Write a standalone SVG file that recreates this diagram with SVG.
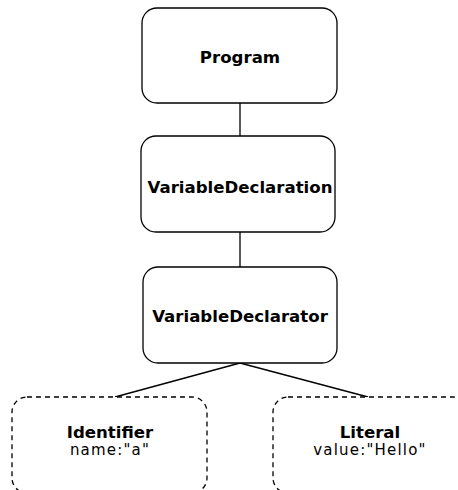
<svg xmlns="http://www.w3.org/2000/svg" width="458" height="490" viewBox="0 0 458 490">
<style>
.box{fill:#fff;stroke:#000;stroke-width:1.3}
.dash{stroke-dasharray:5,4}
.t{font-family:"DejaVu Sans",Verdana,sans-serif;font-size:15px;letter-spacing:1.2px;text-anchor:middle;fill:#000}
.b{font-weight:bold;font-size:16.6px;letter-spacing:0}
.edge{stroke:#000;stroke-width:1.3;fill:none}
</style>
<rect width="458" height="490" fill="#fff"/>
<g id="connectors">
<line class="edge" x1="240" y1="103" x2="240" y2="136"/>
<line class="edge" x1="240" y1="232" x2="240" y2="267"/>
<line class="edge" x1="240" y1="363" x2="115" y2="397"/>
<line class="edge" x1="240" y1="363" x2="368" y2="397"/>
</g>
<g id="program">
<rect class="box" x="142" y="8" width="195" height="95" rx="15"/>
<text class="t b" x="240" y="63">Program</text>
</g>
<g id="variableDeclaration">
<rect class="box" x="141" y="136" width="194" height="96" rx="15"/>
<text class="t b" x="240" y="193">VariableDeclaration</text>
</g>
<g id="variableDeclarator">
<rect class="box" x="143" y="267" width="194" height="96" rx="15"/>
<text class="t b" x="240" y="322">VariableDeclarator</text>
</g>
<g id="identifier">
<rect class="box dash" x="12" y="397" width="195" height="96" rx="15"/>
<text class="t b" x="110" y="438">Identifier</text>
<text class="t" x="110" y="455">name:"a"</text>
</g>
<g id="literal">
<rect class="box dash" x="273" y="397" width="195" height="96" rx="15"/>
<text class="t b" x="370" y="438">Literal</text>
<text class="t" x="370" y="455">value:"Hello"</text>
</g>
</svg>
